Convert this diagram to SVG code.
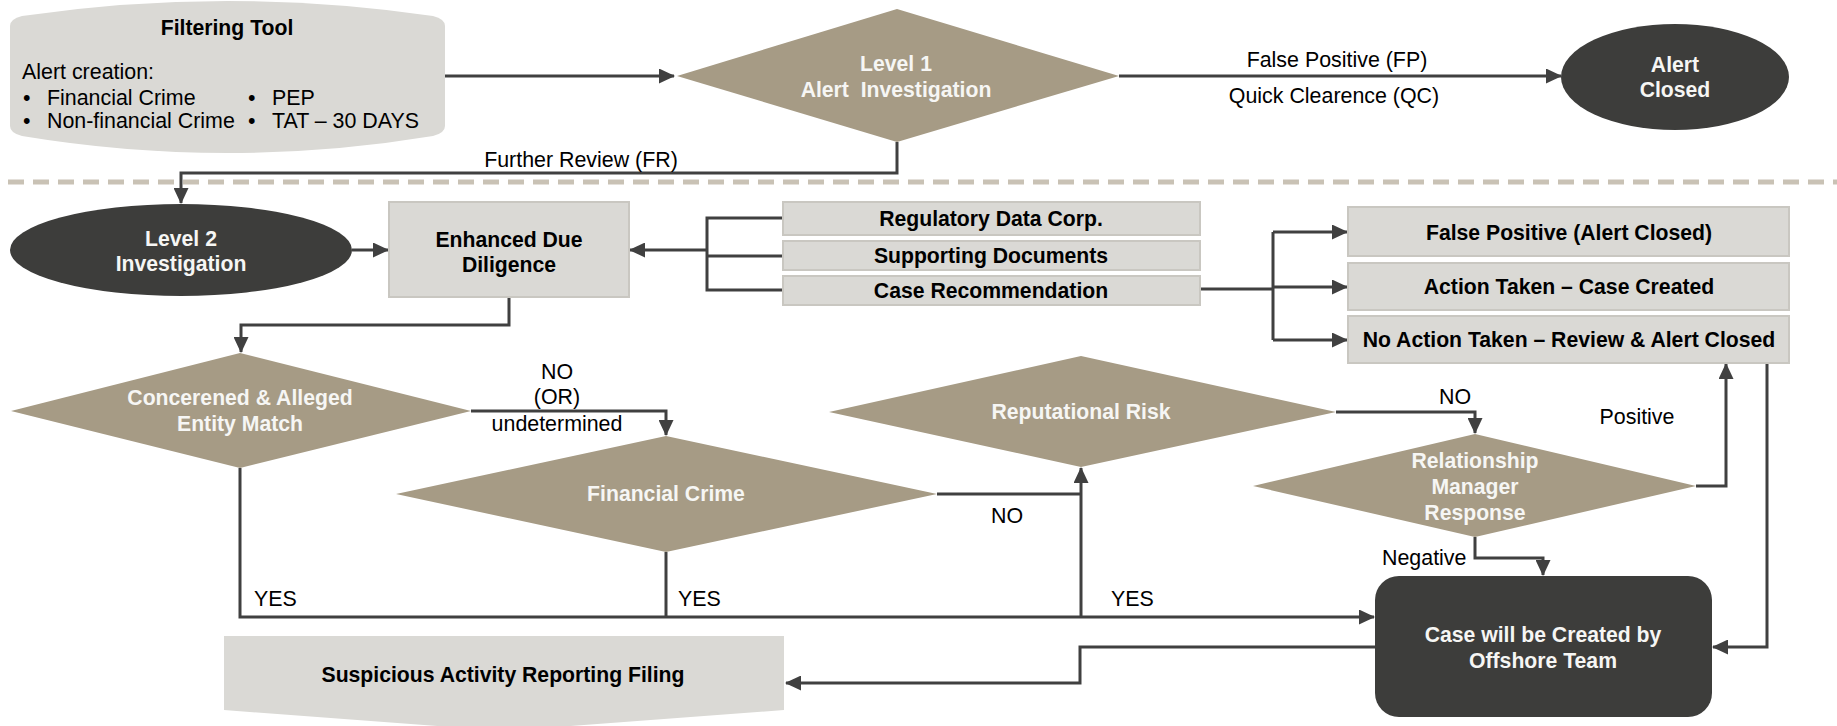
<svg xmlns="http://www.w3.org/2000/svg" width="1837" height="726" viewBox="0 0 1837 726">
<defs>
<style>
.t{font-family:"Liberation Sans",Arial,sans-serif;font-size:21.4px;fill:#000}
.b{font-family:"Liberation Sans",Arial,sans-serif;font-size:21.2px;font-weight:bold;fill:#000}
.w{font-family:"Liberation Sans",Arial,sans-serif;font-size:21.2px;font-weight:bold;fill:#f6f6f4}
.c{text-anchor:middle}
.dia{fill:#a69b85}
.dark{fill:#3d3d3b}
.box{fill:#dad9d5;stroke:#c9c7c1;stroke-width:2}
.lt{fill:#dad9d5}
.ln{fill:none;stroke:#404040;stroke-width:3}
</style>
<marker id="ah" viewBox="0 0 16 15" refX="15" refY="7.5" markerWidth="16" markerHeight="15" markerUnits="userSpaceOnUse" orient="auto">
<path d="M0,0 L16,7.5 L0,15 Z" fill="#404040"/>
</marker>
</defs>
<rect width="1837" height="726" fill="#fff"/>
<line x1="8" y1="182" x2="1837" y2="182" stroke="#c9c2b5" stroke-width="5" stroke-dasharray="16 9"/>

<g id="connectors">
<path class="ln" d="M445,76 H674" marker-end="url(#ah)"/>
<path class="ln" d="M1119,76 H1561" marker-end="url(#ah)"/>
<path class="ln" d="M897,142 V173 H181 V203" marker-end="url(#ah)"/>
<path class="ln" d="M352,250 H388" marker-end="url(#ah)"/>
<path class="ln" d="M783,218 H707 V290 H783 M707,256 H783"/>
<path class="ln" d="M707,250 H630" marker-end="url(#ah)"/>
<path class="ln" d="M1200,289 H1273 M1273,232 V340"/>
<path class="ln" d="M1273,232 H1347" marker-end="url(#ah)"/>
<path class="ln" d="M1273,287 H1347" marker-end="url(#ah)"/>
<path class="ln" d="M1273,340 H1347" marker-end="url(#ah)"/>
<path class="ln" d="M509,297 V325 H241 V352" marker-end="url(#ah)"/>
<path class="ln" d="M471,411 H666 V435" marker-end="url(#ah)"/>
<path class="ln" d="M937,494 H1081"/>
<path class="ln" d="M1081,617 V468" marker-end="url(#ah)"/>
<path class="ln" d="M240,468 V617 H1374" marker-end="url(#ah)"/>
<path class="ln" d="M666,552 V617"/>
<path class="ln" d="M1336,412 H1475 V433" marker-end="url(#ah)"/>
<path class="ln" d="M1696,486 H1726 V364" marker-end="url(#ah)"/>
<path class="ln" d="M1475,537 V558 H1543 V575" marker-end="url(#ah)"/>
<path class="ln" d="M1767,363 V647 H1713" marker-end="url(#ah)"/>
<path class="ln" d="M1375,647 H1080 V683 H786" marker-end="url(#ah)"/>
<text class="t c" x="581" y="167">Further Review (FR)</text>
<text class="t c" x="1337" y="67">False Positive (FP)</text>
<text class="t c" x="1334" y="103">Quick Clearence (QC)</text>
<text class="t c" x="557" y="379">NO</text>
<text class="t c" x="557" y="404">(OR)</text>
<text class="t c" x="557" y="431">undetermined</text>
<text class="t c" x="1007" y="523">NO</text>
<text class="t c" x="1455" y="404">NO</text>
<text class="t" x="254" y="606">YES</text>
<text class="t" x="678" y="606">YES</text>
<text class="t" x="1111" y="606">YES</text>
<text class="t c" x="1637" y="424">Positive</text>
<text class="t" x="1382" y="565">Negative</text>
</g>

<g id="filtering-tool">
<path class="lt" d="M10,26 Q10,19 22,16 Q227,-14 433,16 Q445,19 445,26 L445,126 Q445,133 433,136 Q227,170 22,136 Q10,133 10,126 Z"/>
<text class="b c" x="227" y="35">Filtering Tool</text>
<text class="t" x="22" y="79">Alert creation:</text>
<text class="t" x="23" y="105">•</text>
<text class="t" x="47" y="105">Financial Crime</text>
<text class="t" x="248" y="105">•</text>
<text class="t" x="272" y="105">PEP</text>
<text class="t" x="23" y="128">•</text>
<text class="t" x="47" y="128">Non-financial Crime</text>
<text class="t" x="248" y="128">•</text>
<text class="t" x="272" y="128">TAT – 30 DAYS</text>
</g>

<g id="level1">
<polygon class="dia" points="677,76 897,9 1119,76 897,142"/>
<text class="w c" x="896" y="71">Level 1</text>
<text class="w c" x="896" y="97" style="white-space:pre">Alert  Investigation</text>
</g>

<g id="alert-closed">
<ellipse class="dark" cx="1675" cy="77" rx="114" ry="53"/>
<text class="w c" x="1675" y="72">Alert</text>
<text class="w c" x="1675" y="97">Closed</text>
</g>

<g id="level2">
<ellipse class="dark" cx="181" cy="250" rx="171" ry="46"/>
<text class="w c" x="181" y="246">Level 2</text>
<text class="w c" x="181" y="271">Investigation</text>
</g>

<g id="edd">
<rect class="box" x="389" y="202" width="240" height="95"/>
<text class="b c" x="509" y="247">Enhanced Due</text>
<text class="b c" x="509" y="272">Diligence</text>
</g>

<g id="regulatory-data">
<rect class="box" x="783" y="202" width="417" height="33"/>
<text class="b c" x="991" y="226">Regulatory Data Corp.</text>
</g>
<g id="supporting-docs">
<rect class="box" x="783" y="241" width="417" height="29"/>
<text class="b c" x="991" y="263">Supporting Documents</text>
</g>
<g id="case-recommendation">
<rect class="box" x="783" y="276" width="417" height="29"/>
<text class="b c" x="991" y="298">Case Recommendation</text>
</g>

<g id="false-positive">
<rect class="box" x="1348" y="207" width="441" height="49"/>
<text class="b c" x="1569" y="240">False Positive (Alert Closed)</text>
</g>
<g id="action-taken">
<rect class="box" x="1348" y="263" width="441" height="47"/>
<text class="b c" x="1569" y="294">Action Taken – Case Created</text>
</g>
<g id="no-action">
<rect class="box" x="1348" y="316" width="441" height="47"/>
<text class="b c" x="1569" y="347">No Action Taken – Review &amp; Alert Closed</text>
</g>

<g id="entity-match">
<polygon class="dia" points="11,411 240,353 471,411 240,468"/>
<text class="w c" x="240" y="405">Concerened &amp; Alleged</text>
<text class="w c" x="240" y="431">Entity Match</text>
</g>

<g id="financial-crime">
<polygon class="dia" points="396,494 666,436 937,494 666,552"/>
<text class="w c" x="666" y="501">Financial Crime</text>
</g>

<g id="reputational-risk">
<polygon class="dia" points="829,412 1081,356 1336,412 1081,467"/>
<text class="w c" x="1081" y="419">Reputational Risk</text>
</g>

<g id="rm-response">
<polygon class="dia" points="1253,486 1475,434 1696,486 1475,537"/>
<text class="w c" x="1475" y="468">Relationship</text>
<text class="w c" x="1475" y="494">Manager</text>
<text class="w c" x="1475" y="520">Response</text>
</g>

<g id="case-created">
<rect class="dark" x="1375" y="576" width="337" height="141" rx="24"/>
<text class="w c" x="1543" y="642">Case will be Created by</text>
<text class="w c" x="1543" y="668">Offshore Team</text>
</g>

<g id="sar-filing">
<path class="lt" d="M224,636 H784 V710 L504,731 L224,710 Z"/>
<text class="b c" x="503" y="682">Suspicious Activity Reporting Filing</text>
</g>
</svg>
